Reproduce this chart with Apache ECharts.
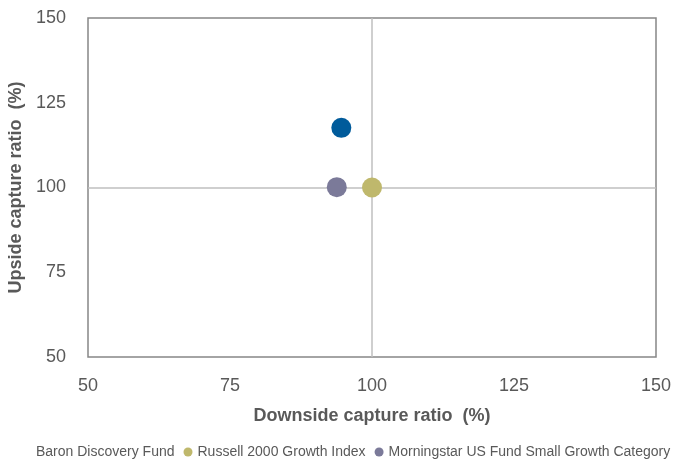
<!DOCTYPE html>
<html><head><meta charset="utf-8">
<script src="https://cdn.jsdelivr.net/npm/echarts@6/dist/echarts.min.js"></script>
<style>html,body{margin:0;padding:0;background:#fff}#c{width:674px;height:463px}</style>
</head><body><div id="c"></div>
<script>
var seriesNames = ['Baron Discovery Fund', 'Russell 2000 Growth Index', 'Morningstar US Fund Small Growth Category'];
var downside = [94.6, 100.0, 93.8];
var upside = [117.6, 100.0, 100.1];
var colors = ['#005b9b', '#bfb86c', '#7b7a99'];
var xTicks = [50, 75, 100, 125, 150];
var yTicks = [50, 75, 100, 125, 150];
var refLine = 100;

var chart = echarts.init(document.getElementById('c'));
var series = seriesNames.map(function (n, i) {
  var s = {
    name: n, type: 'scatter', symbolSize: 20,
    itemStyle: { color: colors[i], opacity: 1 },
    data: [[downside[i], upside[i]]], z: 5
  };
  if (i === 0) {
    s.markLine = {
      silent: true, symbol: 'none', label: { show: false },
      lineStyle: { color: '#bfbfbf', width: 1.5, type: 'solid' },
      data: [{ xAxis: refLine }, { yAxis: refLine }], z: 1
    };
  }
  return s;
});
chart.setOption({
  animation: false,
  grid: { left: 88, top: 18, right: 18, bottom: 106, show: true, borderColor: '#868686', borderWidth: 1.5, containLabel: false, outerBoundsMode: 'none' },
  xAxis: {
    type: 'value', min: xTicks[0], max: xTicks[xTicks.length - 1], interval: 25,
    name: 'Downside capture ratio  (%)', nameLocation: 'middle', nameGap: 50,
    nameTextStyle: { color: '#595959', fontSize: 18, fontWeight: 'bold', fontFamily: 'Liberation Sans' },
    axisLine: { show: false }, axisTick: { show: false }, splitLine: { show: false },
    axisLabel: { color: '#595959', fontSize: 18, margin: 20, fontFamily: 'Liberation Sans' }
  },
  yAxis: {
    type: 'value', min: yTicks[0], max: yTicks[yTicks.length - 1], interval: 25,
    name: 'Upside capture ratio  (%)', nameLocation: 'middle', nameGap: 54, nameRotate: 90,
    nameTextStyle: { color: '#595959', fontSize: 18, fontWeight: 'bold', fontFamily: 'Liberation Sans' },
    axisLine: { show: false }, axisTick: { show: false }, splitLine: { show: false },
    axisLabel: { color: '#595959', fontSize: 18, margin: 22, fontFamily: 'Liberation Sans' }
  },
  legend: {
    top: 445, left: 22, width: 1000, padding: 0, itemGap: 9, itemWidth: 9, itemHeight: 9,
    textStyle: { color: '#595959', fontSize: 14, fontFamily: 'Liberation Sans' },
    data: [
      { name: seriesNames[0], icon: 'none' },
      { name: seriesNames[1], icon: 'circle' },
      { name: seriesNames[2], icon: 'circle' }
    ]
  },
  series: series
});
</script></body></html>
